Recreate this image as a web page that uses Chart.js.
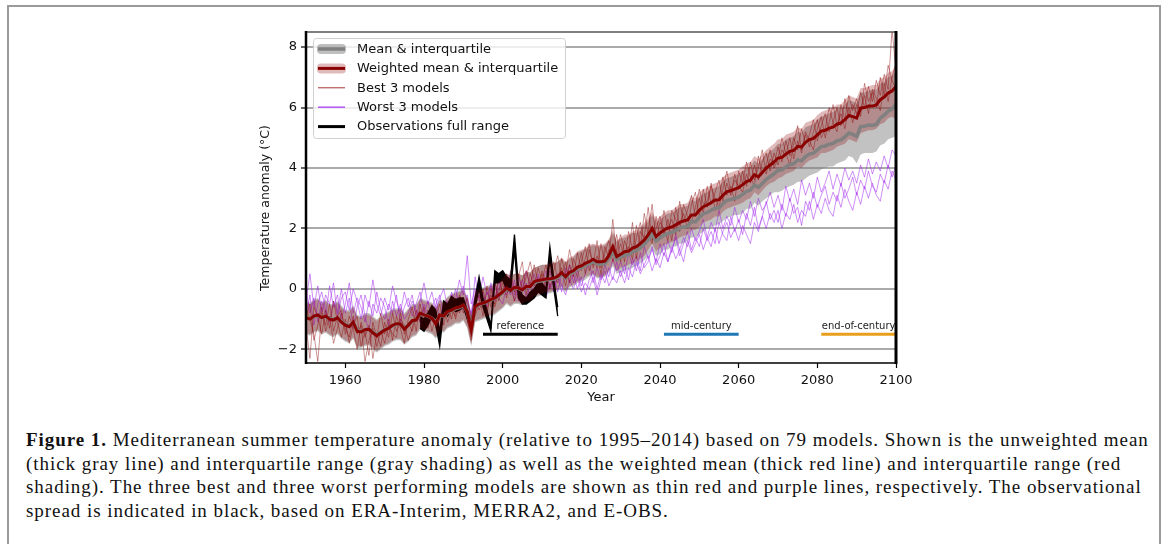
<!DOCTYPE html>
<html>
<head>
<meta charset="utf-8">
<script src="https://cdn.jsdelivr.net/npm/chart.js@4.4.0/dist/chart.umd.min.js"></script>
<style>
  body { margin: 0; background: #fff; width: 1167px; height: 544px; overflow: hidden; position: relative; }
  #frame { position: absolute; left: 7px; top: 5px; width: 1154px; height: 545px; border: 2px solid #9a9a9a; box-sizing: border-box; }
  #anomaly-chart { position: absolute; left: 0; top: 0; }
  #caption { position: absolute; left: 26px; top: 428px; font-family: "Liberation Serif", serif; font-size: 19px; letter-spacing: 0.95px; line-height: 23.5px; color: #111; white-space: nowrap; }
</style>
</head>
<body>
<div id="frame"></div>
<canvas id="anomaly-chart" width="1167" height="420"></canvas>
<div id="caption"><b>Figure 1.</b> Mediterranean summer temperature anomaly (relative to 1995–2014) based on 79 models. Shown is the unweighted mean<br>(thick gray line) and interquartile range (gray shading) as well as the weighted mean (thick red line) and interquartile range (red<br>shading). The three best and three worst performing models are shown as thin red and purple lines, respectively. The observational<br>spread is indicated in black, based on ERA-Interim, MERRA2, and E-OBS.</div>
<script>
// Years 1950-2100, one value per year in every model series below
const years = Array.from({ length: 151 }, (_, i) => 1950 + i);
const xTicks = [1960, 1980, 2000, 2020, 2040, 2060, 2080, 2100];
const yTicks = [-2, 0, 2, 4, 6, 8];

// Weighted mean & interquartile (red)
const weightedMean = [
  -0.95,-1.0,-0.9,-0.86,-0.95,-0.9,-1.0,-1.03,-0.95,-1.1,
  -1.2,-1.25,-1.1,-1.4,-1.42,-1.35,-1.33,-1.45,-1.55,-1.45,
  -1.36,-1.3,-1.2,-1.15,-1.16,-1.33,-1.2,-1.05,-1.03,-0.8,
  -0.86,-0.9,-0.97,-1.15,-0.86,-0.9,-0.75,-0.7,-0.63,-0.6,
  -0.53,-0.75,-1.36,-0.58,-0.5,-0.47,-0.42,-0.35,-0.3,-0.2,
  -0.1,0.03,-0.05,0.05,0.03,-0.03,0.08,0.08,0.24,0.28,
  0.3,0.33,0.34,0.36,0.42,0.54,0.4,0.55,0.6,0.72,
  0.76,0.85,0.9,0.98,0.9,0.9,0.92,1.1,1.4,1.07,
  1.15,1.23,1.25,1.35,1.4,1.5,1.62,1.79,2.0,1.73,
  1.85,1.95,2.01,2.05,2.12,2.2,2.25,2.28,2.45,2.45,
  2.6,2.72,2.78,2.85,2.94,2.95,3.1,3.22,3.25,3.3,
  3.35,3.45,3.55,3.6,3.78,3.71,3.85,4.0,4.1,4.2,
  4.33,4.35,4.46,4.55,4.58,4.72,4.7,4.85,4.94,4.98,
  5.1,5.22,5.25,5.32,5.35,5.45,5.49,5.6,5.74,5.7,
  5.65,5.98,6.0,6.05,6.05,6.09,6.26,6.35,6.48,6.55,
  6.7
];
const weightedHigh = [
  -0.45,-0.5,-0.4,-0.35,-0.5,-0.4,-0.55,-0.55,-0.45,-0.6,
  -0.75,-0.75,-0.6,-0.9,-0.95,-0.85,-0.85,-0.95,-1.05,-0.95,
  -0.85,-0.8,-0.7,-0.7,-0.65,-0.85,-0.7,-0.55,-0.55,-0.35,
  -0.4,-0.45,-0.5,-0.65,-0.4,-0.45,-0.3,-0.2,-0.15,-0.1,
  -0.05,-0.3,-0.85,-0.1,0.0,0.0,0.05,0.1,0.15,0.25,
  0.35,0.5,0.4,0.5,0.5,0.45,0.55,0.55,0.7,0.75,
  0.8,0.8,0.85,0.85,0.9,1.05,0.9,1.05,1.1,1.25,
  1.3,1.35,1.45,1.5,1.45,1.45,1.5,1.65,1.95,1.6,
  1.7,1.8,1.8,1.9,1.95,2.05,2.2,2.35,2.55,2.3,
  2.4,2.5,2.6,2.6,2.7,2.8,2.8,2.85,3.05,3.0,
  3.2,3.3,3.35,3.45,3.5,3.55,3.7,3.8,3.85,3.9,
  3.95,4.05,4.15,4.2,4.4,4.3,4.45,4.6,4.7,4.8,
  4.95,4.95,5.1,5.15,5.2,5.35,5.3,5.5,5.55,5.6,
  5.75,5.85,5.9,5.95,6.0,6.1,6.1,6.25,6.4,6.35,
  6.3,6.65,6.65,6.7,6.75,6.75,6.95,7.0,7.15,7.2,
  7.4
];
const weightedLow = [
  -1.45,-1.5,-1.4,-1.35,-1.45,-1.4,-1.5,-1.55,-1.45,-1.6,
  -1.7,-1.75,-1.6,-1.9,-1.9,-1.85,-1.8,-1.95,-2.05,-1.95,
  -1.85,-1.8,-1.7,-1.65,-1.65,-1.8,-1.7,-1.55,-1.5,-1.3,
  -1.35,-1.4,-1.45,-1.6,-1.35,-1.4,-1.25,-1.2,-1.1,-1.1,
  -1.0,-1.25,-1.85,-1.05,-1.0,-0.95,-0.9,-0.85,-0.8,-0.7,
  -0.6,-0.45,-0.55,-0.45,-0.45,-0.5,-0.4,-0.4,-0.25,-0.2,
  -0.15,-0.1,-0.1,-0.05,0.0,0.1,-0.05,0.1,0.15,0.25,
  0.3,0.4,0.45,0.5,0.4,0.4,0.45,0.6,0.85,0.6,
  0.7,0.75,0.8,0.85,0.9,1.0,1.1,1.3,1.5,1.25,
  1.35,1.45,1.5,1.55,1.6,1.7,1.75,1.8,1.95,1.95,
  2.05,2.2,2.25,2.3,2.4,2.4,2.55,2.65,2.7,2.75,
  2.8,2.85,2.95,3.0,3.2,3.1,3.25,3.4,3.5,3.55,
  3.65,3.7,3.8,3.85,3.9,4.05,4.0,4.15,4.25,4.3,
  4.35,4.5,4.5,4.55,4.6,4.7,4.75,4.8,4.95,4.9,
  4.85,5.15,5.2,5.25,5.25,5.3,5.45,5.5,5.65,5.7,
  5.6
];

// Unweighted mean & interquartile (gray)
const meanAll = [
  -0.95,-0.98,-0.92,-0.88,-0.95,-0.92,-0.98,-1.0,-0.97,-1.08,
  -1.17,-1.22,-1.12,-1.36,-1.4,-1.35,-1.33,-1.43,-1.5,-1.43,
  -1.35,-1.3,-1.22,-1.17,-1.17,-1.3,-1.2,-1.07,-1.03,-0.83,
  -0.86,-0.9,-0.97,-1.1,-0.88,-0.9,-0.77,-0.72,-0.65,-0.62,
  -0.55,-0.75,-1.3,-0.6,-0.52,-0.48,-0.43,-0.37,-0.31,-0.22,
  -0.12,0.0,-0.06,0.03,0.02,-0.04,0.06,0.07,0.2,0.25,
  0.27,0.3,0.31,0.32,0.38,0.49,0.37,0.5,0.55,0.67,
  0.7,0.78,0.83,0.9,0.83,0.82,0.84,1.0,1.25,0.97,
  1.05,1.12,1.13,1.23,1.27,1.36,1.48,1.63,1.82,1.58,
  1.68,1.78,1.83,1.87,1.93,2.0,2.05,2.07,2.23,2.22,
  2.37,2.48,2.53,2.6,2.68,2.68,2.82,2.93,2.96,3.0,
  3.04,3.13,3.23,3.27,3.44,3.36,3.49,3.63,3.72,3.81,
  3.93,3.94,4.04,4.12,4.14,4.27,4.24,4.38,4.46,4.49,
  4.6,4.71,4.73,4.79,4.81,4.9,4.93,5.03,5.16,5.11,
  5.05,5.37,5.38,5.42,5.41,5.44,5.65,5.75,5.88,5.95,
  6.12
];
const allHigh = [
  -0.4,-0.45,-0.35,-0.3,-0.45,-0.35,-0.5,-0.5,-0.4,-0.55,
  -0.7,-0.7,-0.55,-0.85,-0.9,-0.8,-0.8,-0.9,-1.0,-0.9,
  -0.8,-0.75,-0.65,-0.65,-0.6,-0.8,-0.65,-0.5,-0.5,-0.3,
  -0.35,-0.4,-0.45,-0.6,-0.35,-0.4,-0.25,-0.15,-0.1,-0.05,
  0.0,-0.25,-0.8,-0.05,0.05,0.05,0.1,0.15,0.2,0.3,
  0.4,0.5,0.45,0.5,0.5,0.45,0.55,0.55,0.7,0.75,
  0.8,0.8,0.8,0.85,0.9,1.0,0.85,1.0,1.05,1.2,
  1.25,1.3,1.4,1.45,1.4,1.4,1.45,1.6,1.85,1.55,
  1.65,1.7,1.75,1.85,1.85,1.95,2.1,2.25,2.45,2.2,
  2.3,2.4,2.5,2.5,2.6,2.7,2.7,2.75,2.95,2.9,
  3.05,3.15,3.2,3.3,3.35,3.4,3.55,3.65,3.7,3.75,
  3.8,3.9,4.0,4.05,4.25,4.15,4.3,4.45,4.55,4.65,
  4.8,4.8,4.95,5.0,5.05,5.2,5.15,5.35,5.4,5.45,
  5.6,5.7,5.75,5.8,5.85,5.95,5.95,6.1,6.25,6.2,
  6.15,6.5,6.5,6.55,6.6,6.6,6.8,6.85,7.0,7.05,
  7.2
];
const allLow = [
  -1.5,-1.55,-1.45,-1.4,-1.5,-1.45,-1.55,-1.6,-1.5,-1.65,
  -1.75,-1.8,-1.65,-1.95,-1.95,-1.9,-1.85,-2.0,-2.1,-2.0,
  -1.9,-1.85,-1.75,-1.7,-1.7,-1.85,-1.75,-1.6,-1.55,-1.35,
  -1.4,-1.45,-1.5,-1.65,-1.4,-1.45,-1.3,-1.25,-1.15,-1.15,
  -1.05,-1.3,-1.9,-1.1,-1.05,-1.0,-0.95,-0.9,-0.85,-0.75,
  -0.65,-0.5,-0.6,-0.5,-0.5,-0.55,-0.45,-0.45,-0.3,-0.25,
  -0.2,-0.15,-0.15,-0.1,-0.05,0.05,-0.1,0.05,0.1,0.2,
  0.25,0.3,0.4,0.45,0.35,0.35,0.4,0.55,0.75,0.5,
  0.55,0.6,0.65,0.7,0.75,0.85,0.95,1.1,1.3,1.1,
  1.15,1.3,1.3,1.4,1.4,1.5,1.5,1.6,1.7,1.7,
  1.8,1.9,2.0,2.05,2.1,2.15,2.25,2.35,2.4,2.45,
  2.45,2.5,2.65,2.65,2.85,2.75,2.9,3.0,3.1,3.2,
  3.2,3.25,3.35,3.4,3.45,3.55,3.55,3.65,3.75,3.8,
  3.85,3.95,4.0,4.05,4.05,4.15,4.2,4.25,4.4,4.35,
  4.15,4.45,4.5,4.5,4.5,4.55,4.75,4.8,4.95,5.0,
  5.05
];

// Best 3 models (thin red)
const best1 = [
  -1.2,-2.3,-0.6,-0.9,-1.5,-0.7,-1.3,-0.4,-1.1,-1.6,
  -1.0,-1.8,-1.2,-0.9,-1.9,-1.4,-2.2,-1.1,-1.6,-0.8,
  -1.5,-1.0,-1.7,-0.9,-1.3,-1.8,-1.0,-0.6,-1.4,-0.5,
  -1.1,-0.7,-1.4,-0.9,-0.5,-1.2,-0.6,-1.0,-0.3,-0.8,
  -0.4,-1.0,-1.7,-0.6,-0.2,-0.9,0.1,-0.6,0.3,-0.4,
  0.2,-0.3,0.6,-0.1,0.4,0.9,-0.2,0.5,0.1,0.7,
  0.3,0.8,0.0,0.6,1.1,0.4,0.9,0.2,1.0,0.6,
  1.2,0.5,1.3,0.8,1.6,0.7,1.4,1.0,2.3,1.1,
  1.5,0.9,1.9,1.3,2.1,1.4,2.5,1.8,1.5,2.4,
  1.7,2.6,2.0,2.3,1.8,2.9,2.2,2.6,3.1,2.4,
  3.0,2.5,3.4,2.8,3.2,3.6,2.9,3.5,3.1,3.8,
  3.3,3.9,3.4,4.2,3.6,4.0,4.6,3.8,4.3,4.1,
  4.7,4.2,4.9,4.4,5.0,4.6,5.3,4.8,5.1,5.6,
  4.9,5.4,5.8,5.2,5.5,6.0,5.4,6.3,5.7,6.1,
  5.8,6.5,6.0,6.7,6.2,6.9,6.4,7.1,6.6,8.6,
  7.2
];
const best2 = [
  -0.6,-1.0,-1.5,-2.4,-0.8,-1.2,-0.5,-1.4,-0.9,-0.7,
  -1.5,-0.9,-1.3,-2.0,-1.1,-1.6,-1.2,-2.3,-1.5,-1.9,
  -1.1,-1.6,-0.8,-1.4,-1.0,-1.2,-1.7,-1.3,-0.7,-1.1,
  -0.6,-1.3,-0.8,-1.1,-1.5,-0.7,-0.9,-0.4,-1.0,-0.5,
  -0.8,-0.3,-1.1,-0.9,-0.5,0.0,-0.7,-0.2,-0.5,0.4,
  -0.2,0.5,0.0,1.6,-0.3,0.3,0.6,0.1,0.8,0.2,
  0.5,0.0,0.9,0.4,0.2,1.0,0.5,1.3,0.7,0.4,
  0.9,1.4,0.6,1.0,0.7,1.5,0.8,1.3,1.1,1.8,
  0.9,1.6,1.2,2.2,1.0,1.9,1.7,2.7,1.6,2.0,
  2.4,1.8,2.3,1.6,2.7,2.1,2.5,2.0,2.8,3.2,
  2.4,3.3,2.7,3.5,2.6,3.0,3.7,3.1,3.4,2.9,
  3.9,3.5,4.2,3.7,3.4,4.4,3.8,4.1,4.6,4.0,
  4.3,5.0,4.5,4.1,4.8,5.4,4.6,5.1,4.7,5.2,
  5.6,5.0,5.3,6.0,5.5,5.2,6.1,5.6,6.4,5.9,
  6.3,5.7,6.8,6.2,6.5,6.0,7.0,6.4,7.4,6.9,
  6.6
];
const best3 = [
  -1.0,-0.5,-1.7,-1.2,-0.6,-1.4,-0.9,-1.8,-1.3,-0.8,
  -1.3,-1.6,-0.9,-1.5,-1.2,-2.4,-1.7,-1.3,-1.9,-1.4,
  -1.8,-1.2,-1.5,-1.6,-0.8,-1.5,-1.1,-1.4,-0.9,-1.0,
  -1.2,-0.9,-0.6,-1.3,-1.0,-0.6,-1.1,-0.7,-0.9,-0.2,
  -0.6,-0.8,-1.4,-0.3,-0.7,-0.4,-0.9,0.0,-0.6,-0.1,
  0.3,-0.1,0.2,-0.4,0.5,0.0,0.4,0.9,0.3,-0.1,
  0.6,0.2,0.5,0.9,0.3,0.7,0.1,0.8,0.4,1.2,
  0.6,1.0,1.5,0.7,1.1,0.5,1.2,1.6,0.9,1.3,
  1.8,1.2,1.4,1.0,1.7,2.2,1.5,1.9,2.8,1.6,
  2.2,2.0,1.6,2.6,2.3,1.9,2.8,2.4,2.2,2.7,
  3.3,2.8,2.9,3.4,3.0,2.7,3.3,3.9,3.2,3.6,
  3.4,3.2,3.8,3.5,4.1,3.6,4.2,4.5,3.9,4.5,
  4.1,4.6,4.4,5.0,4.3,4.9,4.5,5.2,4.9,4.6,
  5.3,5.7,5.0,5.5,6.1,5.4,5.8,5.3,6.0,5.5,
  6.1,5.9,6.4,5.8,6.6,6.3,5.9,6.8,6.2,7.0,
  7.5
];

// Worst 3 models (thin purple)
const worst1 = [
  -0.4,0.5,-0.6,0.1,-0.8,-0.2,-0.5,0.2,-0.9,-0.3,
  -0.1,-0.7,0.0,-0.4,-1.0,-0.2,-0.6,0.3,-0.5,-0.9,
  -0.3,-0.7,0.1,-0.4,-0.8,-0.1,-0.6,-0.2,-0.9,-0.4,
  0.2,-0.5,-0.1,-0.7,-0.3,0.0,-0.6,-0.2,-0.4,0.3,
  -0.2,1.1,-0.5,0.0,-0.3,0.4,-0.2,0.1,-0.4,0.3,
  -0.1,0.2,0.5,-0.2,0.4,0.0,0.6,0.1,-0.3,0.5,
  0.2,0.6,0.0,0.4,-0.1,0.5,0.3,0.8,0.2,0.6,
  0.1,0.5,0.9,0.2,0.7,0.3,0.8,0.4,1.0,0.6,
  0.9,0.5,1.2,0.8,1.1,0.6,1.4,1.0,1.3,0.9,
  1.5,1.1,1.6,1.2,1.8,1.3,1.7,1.4,2.0,1.6,
  1.9,2.3,1.7,2.2,1.9,2.6,2.0,2.4,2.1,2.7,
  2.2,2.6,2.3,2.9,2.4,3.0,2.6,2.8,3.2,2.7,
  3.1,2.6,3.4,2.9,3.3,2.8,3.6,3.1,3.5,3.0,
  3.7,3.2,3.5,3.9,3.3,3.8,3.4,4.0,3.6,3.9,
  3.5,4.1,3.7,4.3,3.8,4.2,3.9,4.4,4.0,4.6,
  4.4
];
const worst2 = [
  0.0,-0.8,-0.3,-1.1,-0.4,-0.9,0.1,-0.6,-0.2,-1.0,
  -0.5,0.2,-0.8,-0.3,-0.6,-1.1,-0.4,-0.9,-0.1,-0.7,
  -1.0,-0.5,-0.8,-0.2,-1.1,-0.6,-0.3,-0.9,-0.5,-0.1,
  -0.8,-0.4,-1.0,-0.5,-0.2,-0.9,-0.4,-0.7,0.0,-0.5,
  -0.7,-0.2,-0.9,0.4,-0.4,-0.1,-0.6,0.2,-0.3,0.0,
  0.4,-0.2,0.1,-0.4,0.0,0.3,-0.3,0.2,0.5,0.0,
  -0.2,0.3,0.6,0.0,0.4,-0.1,0.7,0.2,0.5,0.0,
  0.4,-0.2,0.3,0.6,0.0,0.5,0.2,0.7,0.3,0.9,
  0.4,0.8,0.3,1.0,0.6,1.2,0.7,0.9,1.4,0.8,
  1.1,1.5,0.9,1.3,1.7,1.1,1.5,1.9,1.3,1.7,
  1.4,2.0,1.6,1.9,1.5,2.2,1.8,1.6,2.4,1.9,
  2.3,1.8,2.5,2.1,2.7,2.0,2.4,2.9,2.3,2.6,
  2.2,2.8,2.4,3.0,2.5,2.7,2.1,2.9,2.6,3.2,
  2.7,3.1,3.4,2.8,3.2,2.9,3.5,3.0,3.3,3.7,
  3.1,3.6,3.3,3.9,3.4,3.2,3.8,3.5,4.1,3.7,
  4.1
];
const worst3 = [
  -0.9,-0.2,-1.2,-0.5,-0.1,-0.7,-1.1,-0.4,-0.8,0.0,
  -0.8,-0.3,-1.3,-0.6,-0.2,-0.9,-1.4,-0.5,-0.8,-0.3,
  -0.6,-1.2,-0.4,-0.9,-0.5,-1.0,-0.8,-0.4,-0.7,-1.1,
  -0.5,-0.9,-0.6,-0.3,-1.0,-0.4,-0.8,-0.1,-0.6,-0.3,
  0.1,-0.5,-0.8,-0.2,0.3,-0.6,-0.1,-0.4,0.2,-0.3,
  -0.5,0.1,-0.2,0.3,-0.4,-0.1,0.2,-0.3,0.1,0.4,
  0.0,-0.3,0.2,-0.1,0.5,0.1,-0.2,0.3,0.0,0.4,
  -0.1,0.2,0.0,0.4,-0.2,0.3,0.6,0.1,0.4,0.2,
  0.6,0.2,0.7,0.4,0.9,0.5,0.8,1.1,0.6,1.0,
  0.7,1.2,0.9,1.4,1.0,1.3,0.9,1.6,1.2,1.5,
  1.8,1.3,1.7,1.4,2.0,1.5,1.9,2.2,1.7,2.0,
  1.6,2.1,1.8,1.5,2.2,1.9,2.4,2.0,2.5,2.2,
  2.6,2.0,2.5,2.3,2.8,2.2,2.6,2.4,2.9,2.3,
  2.8,2.5,3.0,2.6,2.4,3.1,2.7,3.3,2.9,2.6,
  3.2,2.8,3.4,3.0,3.5,3.1,2.9,3.6,3.3,3.9,
  3.6
];

// Observations full range (ERA-Interim, MERRA2, E-OBS), 1979-2014
const obsYears = [1979,1980,1981,1982,1983,1984,1985,1986,1987,1988,1989,1990,1991,1992,1993,1994,1995,1996,
  1997,1998,1999,2000,2001,2002,2003,2004,2005,2006,2007,2008,2009,2010,2011,2012,2013,2014];
const obsLow = [-1.3,-1.4,-1.2,-0.9,-1.2,-1.9,-0.7,-0.9,-0.6,-0.75,-0.7,-0.6,-1.0,-1.4,-0.6,0.0,-0.6,-1.0,
  -1.4,0.2,0.2,0.3,0.0,-0.1,1.3,-0.3,-0.5,-0.5,-0.4,-0.3,-0.1,-0.2,-0.3,1.0,0.0,-0.9];
const obsHigh = [-0.9,-1.0,-0.8,-0.55,-0.7,-1.4,-0.4,-0.5,-0.25,-0.35,-0.3,-0.3,-0.7,-1.1,-0.3,0.4,-0.3,-0.7,
  -1.2,0.6,0.5,0.6,0.4,0.3,1.8,0.1,-0.2,-0.3,-0.1,0.0,0.2,0.2,0.0,1.4,0.3,-0.6];

// Averaging periods
const periodNames = ['reference', 'mid-century', 'end-of-century'];
const periodStart = [1995, 2041, 2081];
const periodEnd = [2014, 2060, 2100];
const periodLevel = -1.5;
const periodColors = ['#000000', '#1f77b4', '#e8a01c'];

const legendLabels = ['Mean & interquartile', 'Weighted mean & interquartile', 'Best 3 models', 'Worst 3 models', 'Observations full range'];
const yTitle = 'Temperature anomaly (°C)';

const anomalyCanvas = document.querySelector('#anomaly-chart');
Chart.defaults.font.family = 'DejaVu Sans';
Chart.defaults.color = '#111';

const pts = (xs, ys) => ys.map((v, i) => ({ x: xs[i], y: v }));

const datasets = [];
function addSet(ds) {
  datasets.push(Object.assign({
    pointRadius: 0, pointHoverRadius: 0, tension: 0, fill: false,
    borderWidth: 0, borderColor: 'rgba(0,0,0,0)'
  }, ds));
  return datasets.length - 1;
}

addSet({ data: pts(years, weightedMean), borderColor: '#8b0000', borderWidth: 3, order: 0 });

periodNames.forEach((name, i) => {
  addSet({ data: [{ x: periodStart[i], y: periodLevel }, { x: periodEnd[i], y: periodLevel }],
    borderColor: periodColors[i], borderWidth: 3, order: 1 });
});

addSet({ data: pts(years, meanAll), borderColor: '#808080', borderWidth: 3.5, order: 2 });

const wLowIdx = addSet({ data: pts(years, weightedLow), order: 3 });
addSet({ data: pts(years, weightedHigh), fill: { target: wLowIdx }, backgroundColor: 'rgba(139,0,0,0.27)', order: 3 });

const obsLowIdx = addSet({ data: pts(obsYears, obsLow), borderColor: '#000', borderWidth: 1.3, order: 4 });
addSet({ data: pts(obsYears, obsHigh), borderColor: '#000', borderWidth: 1.3, fill: { target: obsLowIdx }, backgroundColor: '#000', order: 4 });

[best1, best2, best3].forEach(s => addSet({ data: pts(years, s), borderColor: 'rgba(139,0,0,0.42)', borderWidth: 1, order: 5 }));
[worst1, worst2, worst3].forEach(s => addSet({ data: pts(years, s), borderColor: 'rgba(160,32,240,0.5)', borderWidth: 1, order: 5 }));

const aLowIdx = addSet({ data: pts(years, allLow), order: 6 });
addSet({ data: pts(years, allHigh), fill: { target: aLowIdx }, backgroundColor: 'rgba(128,128,128,0.48)', order: 6 });

// spines: left/right black, top dark gray, bottom black; y label drawn here too
const spinePlugin = {
  id: 'spines',
  afterDatasetsDraw(chart) {
    const { ctx, chartArea: a } = chart;
    ctx.save();
    const line = (x1, y1, x2, y2, color, w) => {
      ctx.beginPath(); ctx.strokeStyle = color; ctx.lineWidth = w;
      ctx.moveTo(x1, y1); ctx.lineTo(x2, y2); ctx.stroke();
    };
    line(a.left, a.top, a.right, a.top, '#555', 1.5);
    line(a.left, a.bottom, a.right, a.bottom, '#000', 1.5);
    line(a.left, a.top - 1, a.left, a.bottom + 1, '#000', 2.5);
    line(a.right, a.top - 1, a.right, a.bottom + 1, '#000', 3);

    ctx.translate(a.left - 40, a.top + 176);
    ctx.rotate(-Math.PI / 2);
    ctx.font = '12.5px "DejaVu Sans"';
    ctx.fillStyle = '#111';
    ctx.textAlign = 'center';
    ctx.textBaseline = 'middle';
    ctx.fillText(yTitle, 0, 0);
    ctx.restore();
  }
};

const periodLabelPlugin = {
  id: 'periodLabels',
  afterDatasetsDraw(chart) {
    const { ctx, scales } = chart;
    ctx.save();
    ctx.font = '10px "DejaVu Sans"';
    ctx.fillStyle = '#222';
    ctx.textAlign = 'center';
    ctx.textBaseline = 'bottom';
    periodNames.forEach((name, i) => {
      const x = scales.x.getPixelForValue((periodStart[i] + periodEnd[i]) / 2);
      const y = scales.y.getPixelForValue(periodLevel) - 3;
      ctx.fillText(name, x, y);
    });
    ctx.restore();
  }
};

const boxLegendPlugin = {
  id: 'boxLegend',
  afterDraw(chart) {
    const { ctx, chartArea: a } = chart;
    const x0 = a.left + 7.5, y0 = a.top + 6.5, w = 252, h = 100;
    ctx.save();
    ctx.beginPath();
    ctx.roundRect(x0, y0, w, h, 3);
    ctx.fillStyle = 'rgba(255,255,255,0.8)';
    ctx.fill();
    ctx.strokeStyle = '#d0d0d0';
    ctx.lineWidth = 1;
    ctx.stroke();
    const hx1 = a.left + 12, hx2 = a.left + 39;
    const styles = [
      { band: 'rgba(128,128,128,0.5)', line: '#808080', width: 3.5 },
      { band: 'rgba(139,0,0,0.27)', line: '#8b0000', width: 3 },
      { band: null, line: 'rgba(139,0,0,0.8)', width: 1 },
      { band: null, line: 'rgba(160,32,240,0.75)', width: 1.5 },
      { band: null, line: '#000', width: 3 }
    ];
    legendLabels.forEach((label, i) => {
      const y = y0 + 10.5 + i * 19.4;
      const s = styles[i];
      if (s.band) {
        ctx.fillStyle = s.band;
        ctx.beginPath();
        ctx.roundRect(hx1 - 1, y - 5, hx2 - hx1 + 2, 10, 4);
        ctx.fill();
      }
      ctx.beginPath();
      ctx.strokeStyle = s.line;
      ctx.lineWidth = s.width;
      ctx.moveTo(hx1, y); ctx.lineTo(hx2, y);
      ctx.stroke();
      ctx.fillStyle = '#111';
      ctx.font = '13px "DejaVu Sans"';
      ctx.textBaseline = 'middle';
      ctx.textAlign = 'left';
      ctx.fillText(label, a.left + 51, y + 0.5);
    });
    ctx.restore();
  }
};

new Chart(anomalyCanvas, {
  type: 'line',
  data: { datasets: datasets },
  options: {
    responsive: false,
    animation: false,
    devicePixelRatio: 1,
    events: [],
    layout: { padding: { left: 246, right: 271, top: 32, bottom: 0 } },
    plugins: { legend: { display: false }, tooltip: { enabled: false } },
    scales: {
      x: {
        type: 'linear', min: 1950, max: 2100,
        afterBuildTicks: axis => { axis.ticks = xTicks.map(v => ({ value: v })); },
        afterFit: axis => { axis.height = 57; },
        grid: { drawOnChartArea: false, drawTicks: true, tickLength: 5, tickColor: '#000', tickWidth: 1.2 },
        border: { display: false },
        ticks: { font: { size: 13 }, padding: 5, maxRotation: 0, callback: v => String(v) },
        title: { display: true, text: 'Year', font: { size: 13 }, padding: { top: 0, bottom: 15 } }
      },
      y: {
        type: 'linear', min: -2.45, max: 8.5,
        afterBuildTicks: axis => { axis.ticks = yTicks.map(v => ({ value: v })); },
        afterFit: axis => { axis.width = 60; },
        grid: { color: '#aaaaaa', lineWidth: 2, drawTicks: true, tickLength: 5, tickColor: '#000', tickWidth: 1.2 },
        border: { display: false },
        ticks: { font: { size: 13 }, padding: 4, callback: v => (v < 0 ? '\u2212' + Math.abs(v) : String(v)) },
        title: { display: false }
      }
    }
  },
  plugins: [spinePlugin, periodLabelPlugin, boxLegendPlugin]
});
</script>
</body>
</html>
